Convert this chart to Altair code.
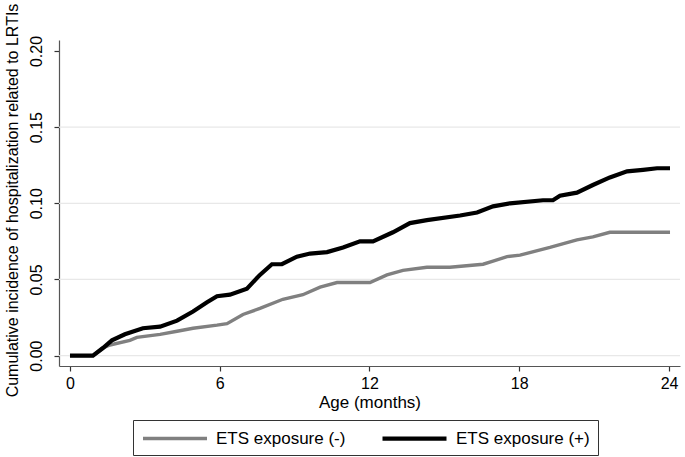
import altair as alt
import pandas as pd

# ETS exposure (-) : grey curve (month, cumulative incidence)
months_neg = [0, 0.92, 1.32, 1.60, 2.40, 2.68, 3.61, 4.29, 4.93, 5.89, 6.29, 6.93, 7.61, 8.53,
              9.33, 10.02, 10.70, 12.02, 12.70, 13.34, 14.30, 15.22, 16.55, 16.95, 17.51, 18.03,
              19.23, 20.31, 20.95, 21.63, 24.04]
inc_neg = [0, 0, 0.005, 0.007, 0.010, 0.012, 0.014, 0.016, 0.018, 0.020, 0.021, 0.027, 0.031, 0.037,
           0.040, 0.045, 0.048, 0.048, 0.053, 0.056, 0.058, 0.058, 0.060, 0.062, 0.065, 0.066,
           0.071, 0.076, 0.078, 0.081, 0.081]

# ETS exposure (+) : black curve
months_pos = [0, 0.92, 1.32, 1.68, 2.20, 2.92, 3.61, 4.29, 4.93, 5.49, 5.89, 6.41, 7.09, 7.61, 8.09,
              8.49, 9.09, 9.62, 10.30, 10.94, 11.62, 12.14, 12.94, 13.62, 14.30, 15.63, 16.31,
              16.95, 17.63, 18.95, 19.35, 19.63, 20.31, 20.95, 21.63, 22.32, 22.96, 23.52, 24.04]
inc_pos = [0, 0, 0.005, 0.010, 0.014, 0.018, 0.019, 0.023, 0.029, 0.035, 0.039, 0.040, 0.044, 0.053,
           0.060, 0.060, 0.065, 0.067, 0.068, 0.071, 0.075, 0.075, 0.081, 0.087, 0.089, 0.092,
           0.094, 0.098, 0.100, 0.102, 0.102, 0.105, 0.107, 0.112, 0.117, 0.121, 0.122, 0.123, 0.123]

series_names = ["ETS exposure (-)", "ETS exposure (+)"]
series_colors = ["#808080", "#000000"]
x_ticks = [0, 6, 12, 18, 24]
y_ticks = [0.0, 0.05, 0.10, 0.15, 0.20]
grid_vals = [0.0, 0.05, 0.10, 0.15]

rows = []
for i, (m, v) in enumerate(zip(months_neg, inc_neg)):
    rows.append({"month": m, "inc": v, "series": series_names[0], "o": i})
for i, (m, v) in enumerate(zip(months_pos, inc_pos)):
    rows.append({"month": m, "inc": v, "series": series_names[1], "o": i})
df = pd.DataFrame(rows)
grid_df = pd.DataFrame({"g": grid_vals})

FONT = "Liberation Sans"
xscale = alt.Scale(domain=[-0.44, 24.44], nice=False, zero=False)
yscale = alt.Scale(domain=[-0.0068, 0.2072], nice=False, zero=False)

grid = alt.Chart(grid_df).mark_rule(color="#e8e8e8", strokeWidth=1.2).encode(
    y=alt.Y("g:Q", scale=yscale,
            axis=alt.Axis(values=y_ticks, format=".2f", labelAngle=270, labelAlign="center",
                          labelBaseline="bottom", tickSize=5, labelPadding=10, grid=False,
                          title="Cumulative incidence of hospitalization related to LRTIs",
                          titleAngle=270, titleX=-47, titleY=160, titleAlign="center",
                          titleBaseline="middle", titleFontSize=16)),
)

lines = alt.Chart(df).mark_line(interpolate="linear", strokeJoin="miter").encode(
    x=alt.X("month:Q", scale=xscale,
            axis=alt.Axis(values=x_ticks, format="d", tickSize=5, labelPadding=4, grid=False,
                          title="Age (months)", titlePadding=3)),
    y=alt.Y("inc:Q", scale=yscale),
    color=alt.Color("series:N",
                    scale=alt.Scale(domain=series_names, range=series_colors),
                    legend=alt.Legend(title=None, orient="none", legendX=74, legendY=380,
                                      direction="horizontal", symbolType="M-4,0H4",
                                      symbolSize=256, symbolStrokeWidth=4, symbolOffset=24,
                                      labelFontSize=17, labelFont=FONT, labelColor="#000000",
                                      labelOffset=31, columnPadding=28, padding=8,
                                      strokeColor="#333333", fillColor="#ffffff")),
    strokeWidth=alt.StrokeWidth("series:N", scale=alt.Scale(domain=series_names, range=[3.4, 4.2]),
                                legend=None),
    order="o:Q",
)

chart = alt.layer(grid, lines).properties(
    width=621, height=326,
    background="#ffffff",
    autosize=alt.AutoSizeParams(type="none"),
    padding={"left": 59, "top": 40, "right": 5, "bottom": 91},
).configure_view(stroke=None).configure_axis(
    labelFont=FONT, titleFont=FONT, labelFontSize=16, titleFontSize=17,
    titleFontWeight="normal", labelColor="#000000", titleColor="#000000",
    domainColor="#555555", tickColor="#333333", domainWidth=1.2, tickWidth=1.2,
)

chart.save("out.html", embed_options={"renderer": "svg", "actions": False})
